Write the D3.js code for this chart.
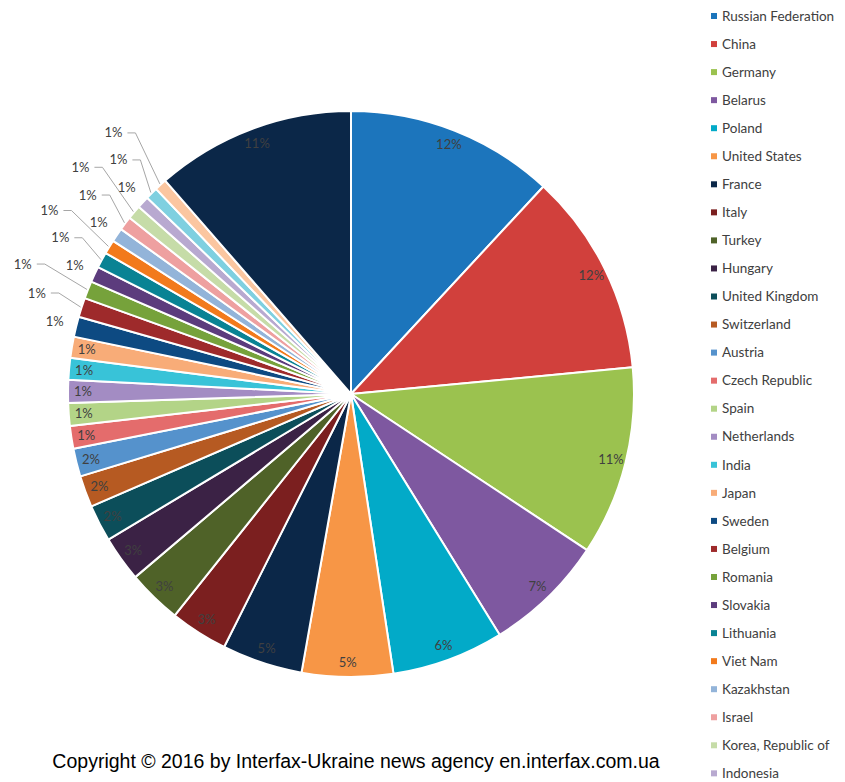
<!DOCTYPE html>
<html>
<head>
<meta charset="utf-8">
<script src="https://cdn.jsdelivr.net/npm/d3@7"></script>
<style>
  body { margin: 0; background: #fff; }
  svg { display: block; }
</style>
</head>
<body>
<div id="chart"></div>
<script>
// share of each country, %, clockwise from 12 o'clock
const countries = [
  'Russian Federation', 'China', 'Germany', 'Belarus', 'Poland', 'United States',
  'France', 'Italy', 'Turkey', 'Hungary', 'United Kingdom', 'Switzerland',
  'Austria', 'Czech Republic', 'Spain', 'Netherlands', 'India', 'Japan',
  'Sweden', 'Belgium', 'Romania', 'Slovakia', 'Lithuania', 'Viet Nam',
  'Kazakhstan', 'Israel', 'Korea, Republic of', 'Indonesia', 'Moldova, Republic of',
  'Latvia', 'Other'
]
const shares = [
  11.9, 11.6, 10.8, 6.9, 6.4, 5.2,
  4.6, 3.3, 3.1, 2.6, 2.1, 1.8,
  1.6, 1.3, 1.3, 1.3, 1.25, 1.2,
  1.15, 1.1, 1.0, 0.9, 0.9, 0.8,
  0.8, 0.8, 0.8, 0.7, 0.7,
  0.7, 11.4
]
const colors = [
  '#1c75bc', '#d1403c', '#9bc24f', '#7e58a0', '#02aac8', '#f79646',
  '#0b2748', '#7b1f1f', '#4f6228', '#3b2245', '#0c4e5a', '#b65a22',
  '#5592cc', '#e46c6c', '#b3d487', '#a38cc3', '#38c3d8', '#f8ac78',
  '#0d4a82', '#9e2a2b', '#76a23b', '#5c3c7d', '#098394', '#f27a1c',
  '#93b4d9', '#eea0a0', '#c6dca8', '#b8a9d0', '#7fd0e0',
  '#fbc6a0', '#0b2748'
]
const copyright = 'Copyright \u00a9 2016 by Interfax-Ukraine news agency en.interfax.com.ua'

const width = 845
const height = 782
const cx = 351
const cy = 394
const radius = 283

const data = countries.map((name, i) => ({ name, value: shares[i], color: colors[i] }))

const svg = d3.select('#chart').append('svg')
  .attr('width', width)
  .attr('height', height)

const pie = d3.pie()
  .sort(null)
  .value(d => d.value)
  .startAngle(0)
  .endAngle(2 * Math.PI)

const arcs = pie(data)
const arc = d3.arc().innerRadius(0).outerRadius(radius)

const g = svg.append('g').attr('transform', `translate(${cx},${cy})`)

g.selectAll('path.slice')
  .data(arcs)
  .enter()
  .append('path')
  .attr('class', 'slice')
  .attr('d', arc)
  .attr('fill', d => d.data.color)
  .attr('stroke', '#fff')
  .attr('stroke-width', 2)
  .attr('stroke-linejoin', 'round')

// polar helper, angle measured clockwise from north
const polar = (a, r) => [r * Math.sin(a), -r * Math.cos(a)]
const mid = d => (d.startAngle + d.endAngle) / 2
const fmt = d => Math.round(d.data.value) + '%'

// labels inside the bigger slices
const inside = arcs.filter(d => d.data.value >= 1.2)
g.selectAll('text.inner')
  .data(inside)
  .enter()
  .append('text')
  .attr('class', 'inner')
  .attr('x', d => polar(mid(d), radius - 15)[0])
  .attr('y', d => polar(mid(d), radius - 15)[1])
  .attr('dy', '0.35em')
  .attr('text-anchor', 'middle')
  .style('font-family', 'Lato, "Open Sans", sans-serif')
  .style('font-size', '13px')
  .attr('fill', '#404040')
  .text(fmt)

// small slices: labels outside, pushed out level by level until they stop overlapping
const outside = arcs.filter(d => d.data.value < 1.2)
const levels = [22, 47, 70, 93]
const boxW = 24
const boxH = 14
const pad = 10
const placed = []
outside.forEach(d => {
  let lvl = 0
  let pos
  for (; lvl < levels.length; lvl++) {
    pos = polar(mid(d), radius + levels[lvl])
    const hit = placed.some(p =>
      Math.abs(p.x - pos[0]) < boxW + pad && Math.abs(p.y - pos[1]) < boxH + pad)
    if (!hit) break
  }
  if (lvl === levels.length) lvl = levels.length - 1
  pos = polar(mid(d), radius + levels[lvl])
  placed.push({ x: pos[0], y: pos[1], lvl, d })
})

// leader lines for labels moved away from the pie
g.selectAll('path.leader')
  .data(placed.filter(p => p.lvl > 0))
  .enter()
  .append('path')
  .attr('class', 'leader')
  .attr('fill', 'none')
  .attr('stroke', '#a6a6a6')
  .attr('stroke-width', 1)
  .attr('d', p => {
    const e = polar(mid(p.d), radius + 1)
    const x0 = p.x + boxW / 2 + 2
    return `M${x0},${p.y}L${x0 + 8},${p.y}L${e[0]},${e[1]}`
  })

g.selectAll('text.outer')
  .data(placed)
  .enter()
  .append('text')
  .attr('class', 'outer')
  .attr('x', p => p.x)
  .attr('y', p => p.y)
  .attr('dy', '0.35em')
  .attr('text-anchor', 'middle')
  .style('font-family', 'Lato, "Open Sans", sans-serif')
  .style('font-size', '13px')
  .attr('fill', '#404040')
  .text(p => fmt(p.d))

// legend, runs off the bottom like the original (only rows that reach the page)
const rowH = 28.05
const legend = svg.append('g').attr('transform', 'translate(711,16)')
const item = legend.selectAll('g')
  .data(data.filter((d, i) => 16 + i * rowH < height))
  .enter()
  .append('g')
  .attr('transform', (d, i) => `translate(0,${i * rowH})`)

item.append('rect')
  .attr('x', 0)
  .attr('y', -3)
  .attr('width', 6)
  .attr('height', 6)
  .attr('fill', d => d.color)

item.append('text')
  .attr('x', 11)
  .attr('y', 0)
  .attr('dy', '0.35em')
  .style('font-family', 'Lato, "Open Sans", sans-serif')
  .style('font-size', '13.5px')
  .attr('fill', '#404040')
  .text(d => d.name)

svg.append('text')
  .attr('x', 356)
  .attr('y', 768)
  .attr('text-anchor', 'middle')
  .style('font-family', '"Liberation Sans", Arial, sans-serif')
  .style('font-size', '19.5px')
  .attr('fill', '#000')
  .text(copyright)
</script>
</body>
</html>
